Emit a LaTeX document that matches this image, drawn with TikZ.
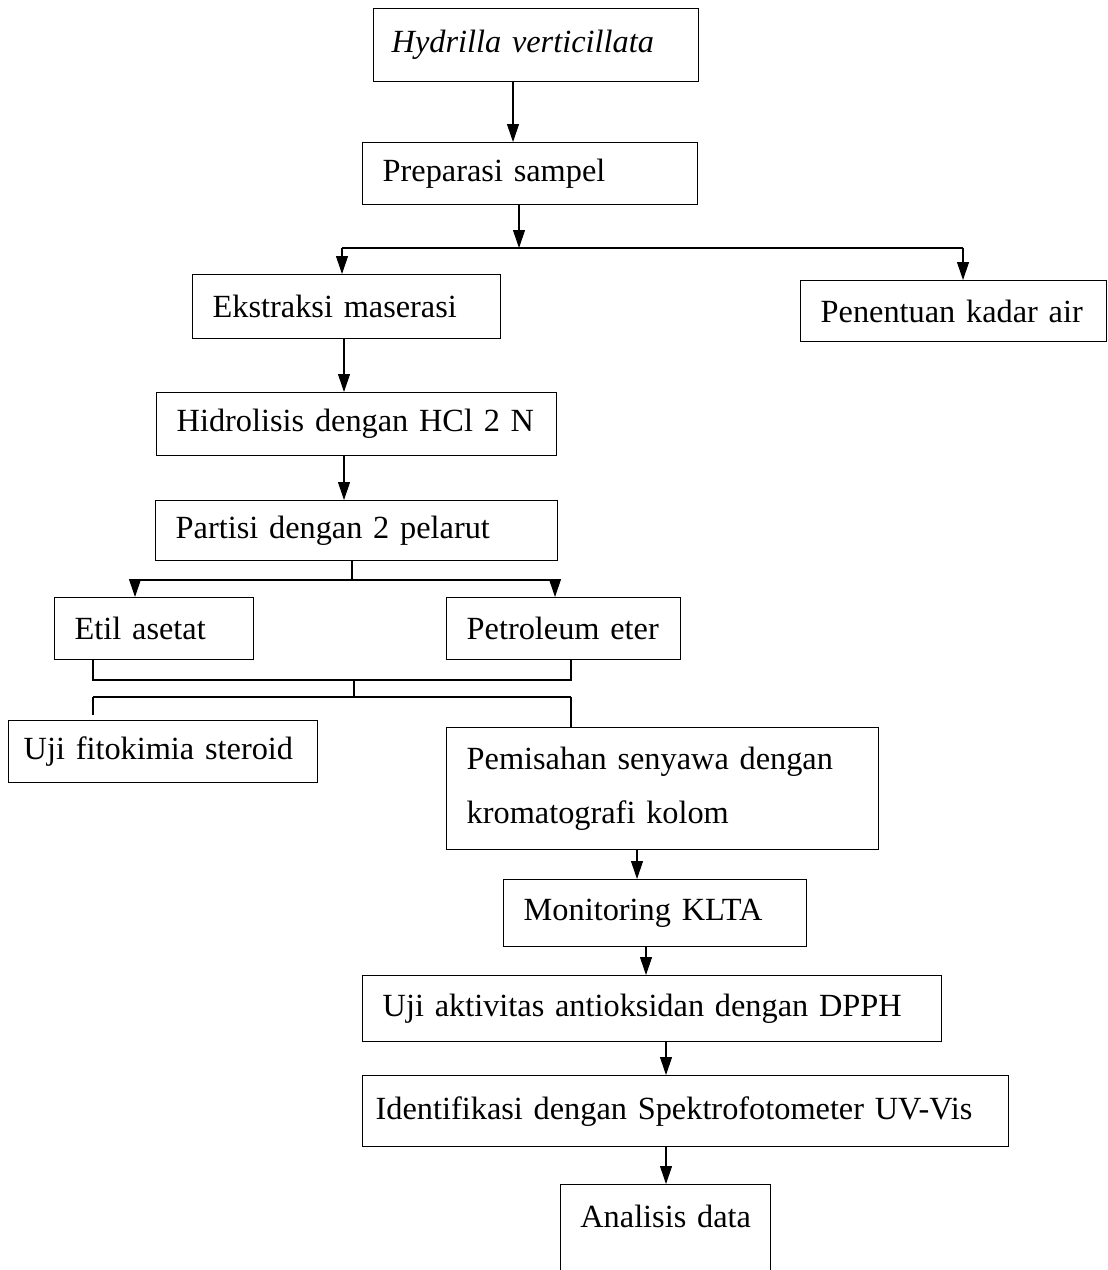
\documentclass[tikz,border=0pt]{standalone}
\usepackage{fontspec}
\setmainfont{Liberation Serif}
\usetikzlibrary{arrows.meta}
\tikzstyle{box} = [draw, line width=0.8pt, rectangle, anchor=north west, align=left, inner xsep=0.4cm, inner ysep=0pt, font=\fontsize{18.4}{31}\selectfont]
\tikzstyle{arrow} = [line width=0.6pt, -{Triangle[length=0.36cm,width=0.24cm]}]
\tikzstyle{line} = [line width=0.6pt]

\begin{document}
\begin{tikzpicture}[x=0.02cm, y=-0.02cm]
\useasboundingbox (0,0) rectangle (1107,1270);

% boxes
\node[box, text width=5.78cm, minimum height=1.46cm, inner xsep=0.36cm] (hydrilla) at (373,8) {\textit{Hydrilla verticillata}};
\node[box, text width=5.9cm, minimum height=1.24cm] (prep) at (362,142) {Preparasi sampel};
\node[box, text width=5.36cm, minimum height=1.28cm] (ekstr) at (192,274) {Ekstraksi maserasi};
\node[box, text width=5.32cm, minimum height=1.22cm] (kadar) at (800,280) {Penentuan kadar air};
\node[box, text width=7.2cm, minimum height=1.26cm] (hidro) at (156,392) {Hidrolisis dengan HCl 2 N};
\node[box, text width=7.24cm, minimum height=1.2cm] (partisi) at (155,500) {Partisi dengan 2 pelarut};
\node[box, text width=3.18cm, minimum height=1.24cm] (etil) at (54,597) {Etil asetat};
\node[box, text width=3.88cm, minimum height=1.24cm] (petro) at (446,597) {Petroleum eter};
\node[box, text width=5.58cm, minimum height=1.24cm, inner xsep=0.3cm] (fito) at (8,720) {Uji fitokimia steroid};
\node[box, text width=7.84cm, minimum height=2.44cm] (pem) at (446,727) {Pemisahan senyawa dengan\\kromatografi kolom};
\node[box, text width=5.26cm, minimum height=1.34cm] (klta) at (503,879) {Monitoring KLTA};
\node[box, text width=10.78cm, minimum height=1.32cm] (dpph) at (362,975) {Uji aktivitas antioksidan dengan DPPH};
\node[box, text width=12.4cm, minimum height=1.42cm, inner xsep=0.26cm] (uvvis) at (362,1075) {Identifikasi dengan Spektrofotometer UV-Vis};
\node[box, align=center, text width=3.8cm, inner xsep=0.2cm, inner ysep=0.4cm, text depth=0.9cm] (analisis) at (560,1184) {Analisis data};

% branch points
\coordinate (c1) at (513,0);
\coordinate (c2) at (519,248);
\coordinate (c2l) at (342,248);
\coordinate (c2r) at (963,248);
\coordinate (c3) at (344,0);
\coordinate (c4) at (352,580);
\coordinate (c4l) at (135,580);
\coordinate (c4r) at (555,580);
\coordinate (c5) at (354,680);
\coordinate (c5l) at (93,680);
\coordinate (c5r) at (571,680);
\coordinate (c6) at (354,697);
\coordinate (c6l) at (93,697);
\coordinate (c6r) at (571,697);
\coordinate (c7) at (93,715);
\coordinate (c8) at (637,0);
\coordinate (c9) at (646,0);
\coordinate (c10) at (666,0);

% connectors
\draw[arrow] (hydrilla.south -| c1) -- (prep.north -| c1);
\draw[arrow] (prep.south -| c2) -- (c2);
\draw[line] (c2l) -- (c2r);
\draw[arrow] (c2l) -- (c2l |- ekstr.north);
\draw[arrow] (c2r) -- (c2r |- kadar.north);
\draw[arrow] (ekstr.south -| c3) -- (hidro.north -| c3);
\draw[arrow] (hidro.south -| c3) -- (partisi.north -| c3);
\draw[line] (partisi.south -| c4) -- (c4);
\draw[line] (c4l) -- (c4r);
\draw[arrow] (c4l) -- (c4l |- etil.north);
\draw[arrow] (c4r) -- (c4r |- petro.north);
\draw[line] (etil.south -| c5l) -- (c5l) -- (c5r) -- (petro.south -| c5r);
\draw[line] (c5) -- (c6);
\draw[line] (c6l) -- (c6r);
\draw[line] (c6l) -- (c7);
\draw[line] (c6r) -- (c6r |- pem.north);
\draw[arrow] (pem.south -| c8) -- (klta.north -| c8);
\draw[arrow] (klta.south -| c9) -- (dpph.north -| c9);
\draw[arrow] (dpph.south -| c10) -- (uvvis.north -| c10);
\draw[arrow] (uvvis.south -| c10) -- (analisis.north -| c10);

\end{tikzpicture}
\end{document}
